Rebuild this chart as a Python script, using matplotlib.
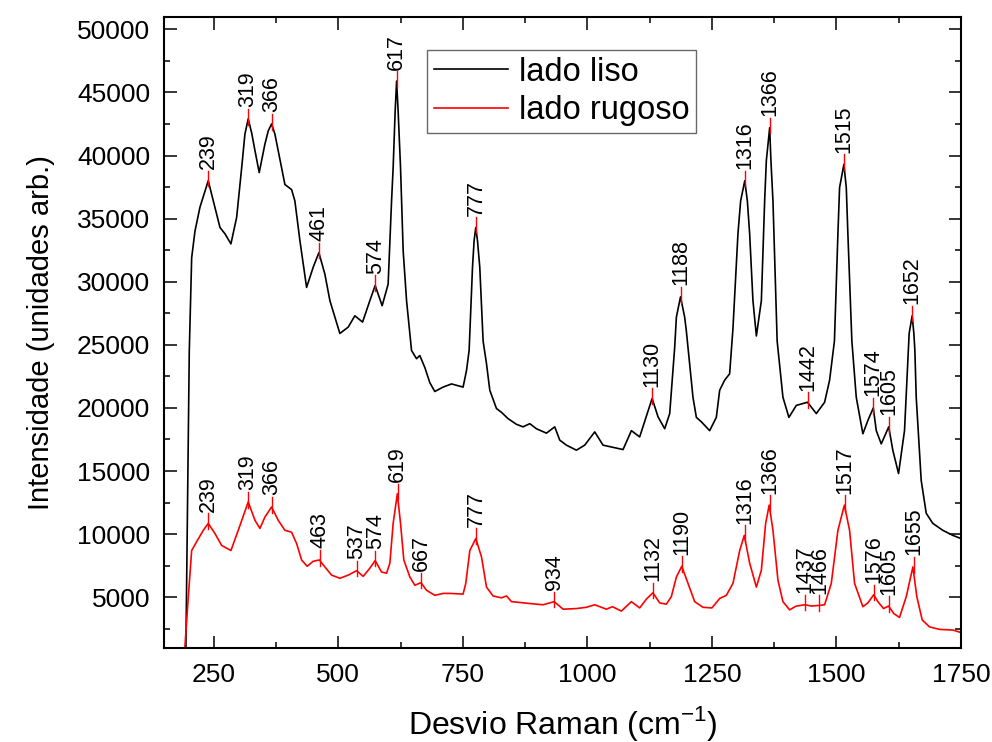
import matplotlib
import matplotlib.pyplot as plt
from matplotlib.ticker import MultipleLocator
plt.switch_backend('agg')

matplotlib.rcParams['font.family'] = "sans-serif"
matplotlib.rcParams['font.sans-serif'] = ["Liberation Sans", "DejaVu Sans"]

# espectro "lado liso"
liso_x = [194, 200.8, 205.6, 212.2, 222.2, 238.9, 252.3, 262.4, 272.4, 284.4,
          295.9, 305.9, 312.5, 319.1, 326, 332.6, 341.2, 352.6, 359.3, 366,
          372.7, 379.3, 392.8, 406.2, 412.8, 422.9, 436.3, 449.6, 461, 473,
          483.1, 503.1, 519.8, 533.2, 548.7, 563.3, 574, 588, 600, 606.9,
          610.1, 614.1, 617, 620.1, 624.9, 630.2, 637, 647, 657, 663.6,
          673.7, 683.7, 693.7, 710.4, 727.2, 750.5, 757.3, 762.6, 769.4, 772.6,
          776, 779.4, 784, 790.7, 797.5, 804.1, 817.5, 827.6, 840.8, 857.6,
          870.9, 884.3, 897.7, 917.8, 934.5, 944.5, 957.9, 978, 994.7, 1014.8,
          1031.4, 1048.3, 1071.6, 1088.4, 1105, 1130, 1141.8, 1155.2, 1165.3, 1175.3,
          1178.7, 1187, 1195.3, 1198.7, 1212, 1218.8, 1228.8, 1245.5, 1258.9, 1265.6,
          1275.6, 1285.6, 1292.3, 1302.3, 1307.7, 1316, 1321.2, 1325.8, 1332.4, 1339.3,
          1349.3, 1355.9, 1359.3, 1366, 1368.5, 1372.6, 1381, 1392.6, 1404.6, 1419.5,
          1442, 1459.6, 1476.3, 1486.3, 1496, 1503, 1506.3, 1515, 1519.8, 1523,
          1531, 1539.8, 1553.1, 1563.1, 1574, 1580, 1590, 1605, 1613.2, 1624.7,
          1636.7, 1643, 1646, 1652, 1655.5, 1657.5, 1660.2, 1670.2, 1680.3, 1693.5,
          1713.6, 1733.7, 1750]
liso_y = [1000, 24500, 31900, 34000, 35900, 38000, 35900, 34300, 33800, 33000,
          35100, 39000, 41700, 42900, 41800, 40400, 38650, 40900, 41950, 42500,
          41700, 40400, 37700, 37300, 36400, 33250, 29550, 31150, 32300, 30600,
          28500, 25900, 26400, 27300, 26800, 28500, 29700, 28100, 29800, 36400,
          39050, 43500, 45900, 43500, 39050, 32450, 28500, 24550, 23900, 24150,
          23200, 22000, 21300, 21650, 21900, 21650, 22950, 24550, 31150, 33250,
          34300, 33250, 31150, 25300, 23500, 21400, 19950, 19650, 19150, 18700,
          18500, 18750, 18350, 18000, 18500, 17450, 17050, 16650, 17050, 18100,
          17050, 16900, 16700, 18200, 17700, 20750, 19300, 18350, 19550, 24800,
          27200, 28800, 27200, 26100, 20850, 19250, 18900, 18200, 19250, 21400,
          22200, 22700, 26300, 33800, 36400, 38000, 36400, 33800, 28500, 25700,
          28500, 36400, 39600, 42200, 39600, 36400, 25300, 20850, 19250, 20200,
          20450, 19550, 20450, 22200, 25300, 33800, 37450, 39300, 37450, 33800,
          25300, 20850, 17950, 19000, 20000, 18200, 17150, 18500, 16650, 14800,
          18200, 23500, 25900, 27300, 25900, 24550, 20850, 14250, 11650, 10850,
          10300, 9900, 9650]

# espectro "lado rugoso"
rugoso_x = [191, 198.8, 205.6, 215.6, 228.9, 238.9, 252.3, 265.8, 284.4, 299.1,
            319.1, 332.6, 342.6, 352.6, 366, 379.3, 392.8, 406.2, 416.3, 426.3,
            437.5, 449.6, 462, 473, 486.5, 503.1, 519.8, 536.6, 549.9, 563.3,
            574, 586.8, 596.8, 603.5, 610.1, 618.5, 624.9, 631.5, 643.6, 653.6,
            666, 677.1, 693.7, 710.4, 723.8, 750.5, 755.9, 764, 776, 787.4,
            797.5, 810.7, 827.6, 837.6, 847.7, 884.3, 911, 933.5, 951.2, 978,
            998.1, 1014.8, 1038.2, 1050.3, 1068.3, 1088.4, 1105, 1118.5, 1131.5, 1145.2,
            1158.6, 1168.6, 1178.7, 1189.5, 1202, 1215.4, 1232.1, 1250, 1265.6, 1279,
            1292.3, 1305.8, 1315, 1325.8, 1339.3, 1349.3, 1357.9, 1365, 1372.6, 1382.6,
            1392.6, 1406, 1419.5, 1437, 1449.6, 1465, 1476.3, 1489.7, 1503, 1516,
            1526.4, 1536.4, 1553.1, 1563.1, 1575, 1583.2, 1594.6, 1604.6, 1615.3, 1626.7,
            1640.2, 1653.5, 1661.4, 1672.2, 1686.9, 1707, 1733.7, 1750]
rugoso_y = [500, 5000, 8700, 9400, 10300, 10850, 10050, 9100, 8700, 10300,
            12550, 11100, 10450, 11350, 12150, 11100, 10300, 10150, 9250, 7950,
            7450, 7850, 7950, 7400, 6750, 6500, 6750, 7100, 6650, 7300,
            7900, 7000, 6900, 7700, 10850, 13200, 10850, 7950, 6600, 5950,
            6150, 5550, 5150, 5300, 5300, 5250, 6100, 8700, 9650, 8200,
            5800, 5100, 4950, 5100, 4650, 4500, 4400, 4650, 4050, 4100,
            4200, 4400, 4050, 4250, 3900, 4650, 4150, 4850, 5350, 4550,
            4450, 5050, 6600, 7450, 6100, 4650, 4200, 4150, 4900, 5150,
            6100, 8700, 9900, 7700, 5800, 7150, 10850, 12300, 10300, 6350,
            4650, 4000, 4300, 4400, 4300, 4350, 4400, 6100, 10300, 12300,
            10300, 6100, 4250, 4550, 5200, 4650, 4100, 4300, 3700, 3400,
            5050, 7400, 5050, 3200, 2650, 2450, 2400, 2200]

# picos marcados
picos_liso = [239, 319, 366, 461, 574, 617, 777, 1130, 1188, 1316,
              1366, 1442, 1515, 1574, 1605, 1652]
picos_liso_y = [38000, 42900, 42500, 32300, 29700, 45900, 34300, 20750, 28800, 38000,
                42200, 20450, 39300, 20000, 18500, 27300]
picos_rugoso = [239, 319, 366, 463, 537, 574, 619, 667, 777, 934,
                1132, 1190, 1316, 1366, 1437, 1466, 1517, 1576, 1605, 1655]
picos_rugoso_y = [10850, 12550, 12150, 7950, 7100, 7900, 13200, 6150, 9650, 4650,
                  5350, 7450, 9900, 12300, 4400, 4350, 12300, 5200, 4300, 7400]

fig = plt.figure(figsize=(9.92, 7.42), dpi=100)
ax = fig.add_axes([0.1653, 0.1271, 0.8034, 0.8504])

ax.plot(liso_x, liso_y, color='black', lw=1.2, label='lado liso')
ax.plot(rugoso_x, rugoso_y, color='red', lw=1.2, label='lado rugoso')

for px, py in list(zip(picos_liso, picos_liso_y)) + list(zip(picos_rugoso, picos_rugoso_y)):
    ax.plot([px, px], [py - 450, py + 800], color='red', lw=1.0)
    ax.annotate(str(px), xy=(px, py + 800), xytext=(0, 1), textcoords='offset points',
                rotation=90, ha='center', va='bottom', fontsize=15.5)

ax.set_xlim(150, 1750)
ax.set_ylim(1000, 51000)
ax.xaxis.set_major_locator(MultipleLocator(250))
ax.xaxis.set_minor_locator(MultipleLocator(125))
ax.yaxis.set_major_locator(MultipleLocator(5000))
ax.yaxis.set_minor_locator(MultipleLocator(2500))
ax.tick_params(which='both', direction='in', top=True, right=True, width=1.1, labelsize=19)
ax.tick_params(which='major', length=9)
ax.tick_params(which='minor', length=4.5)
ax.tick_params(axis='x', pad=11)
ax.tick_params(axis='y', pad=10)
for s in ax.spines.values():
    s.set_linewidth(1.5)

ax.set_xlabel('Desvio Raman (cm$^{\\mathregular{-1}}$)', fontsize=23, labelpad=12)
ax.set_ylabel('Intensidade (unidades arb.)', fontsize=21, labelpad=16)

leg = ax.legend(loc='upper left', bbox_to_anchor=(0.33, 0.947), fontsize=23.5, frameon=True,
                fancybox=False, borderaxespad=0, handlelength=2.27, handletextpad=0.34,
                borderpad=0.2, labelspacing=0.23)
leg.get_frame().set_edgecolor('#444444')
leg.get_frame().set_linewidth(1.0)

plt.savefig('out.png', dpi=100)
